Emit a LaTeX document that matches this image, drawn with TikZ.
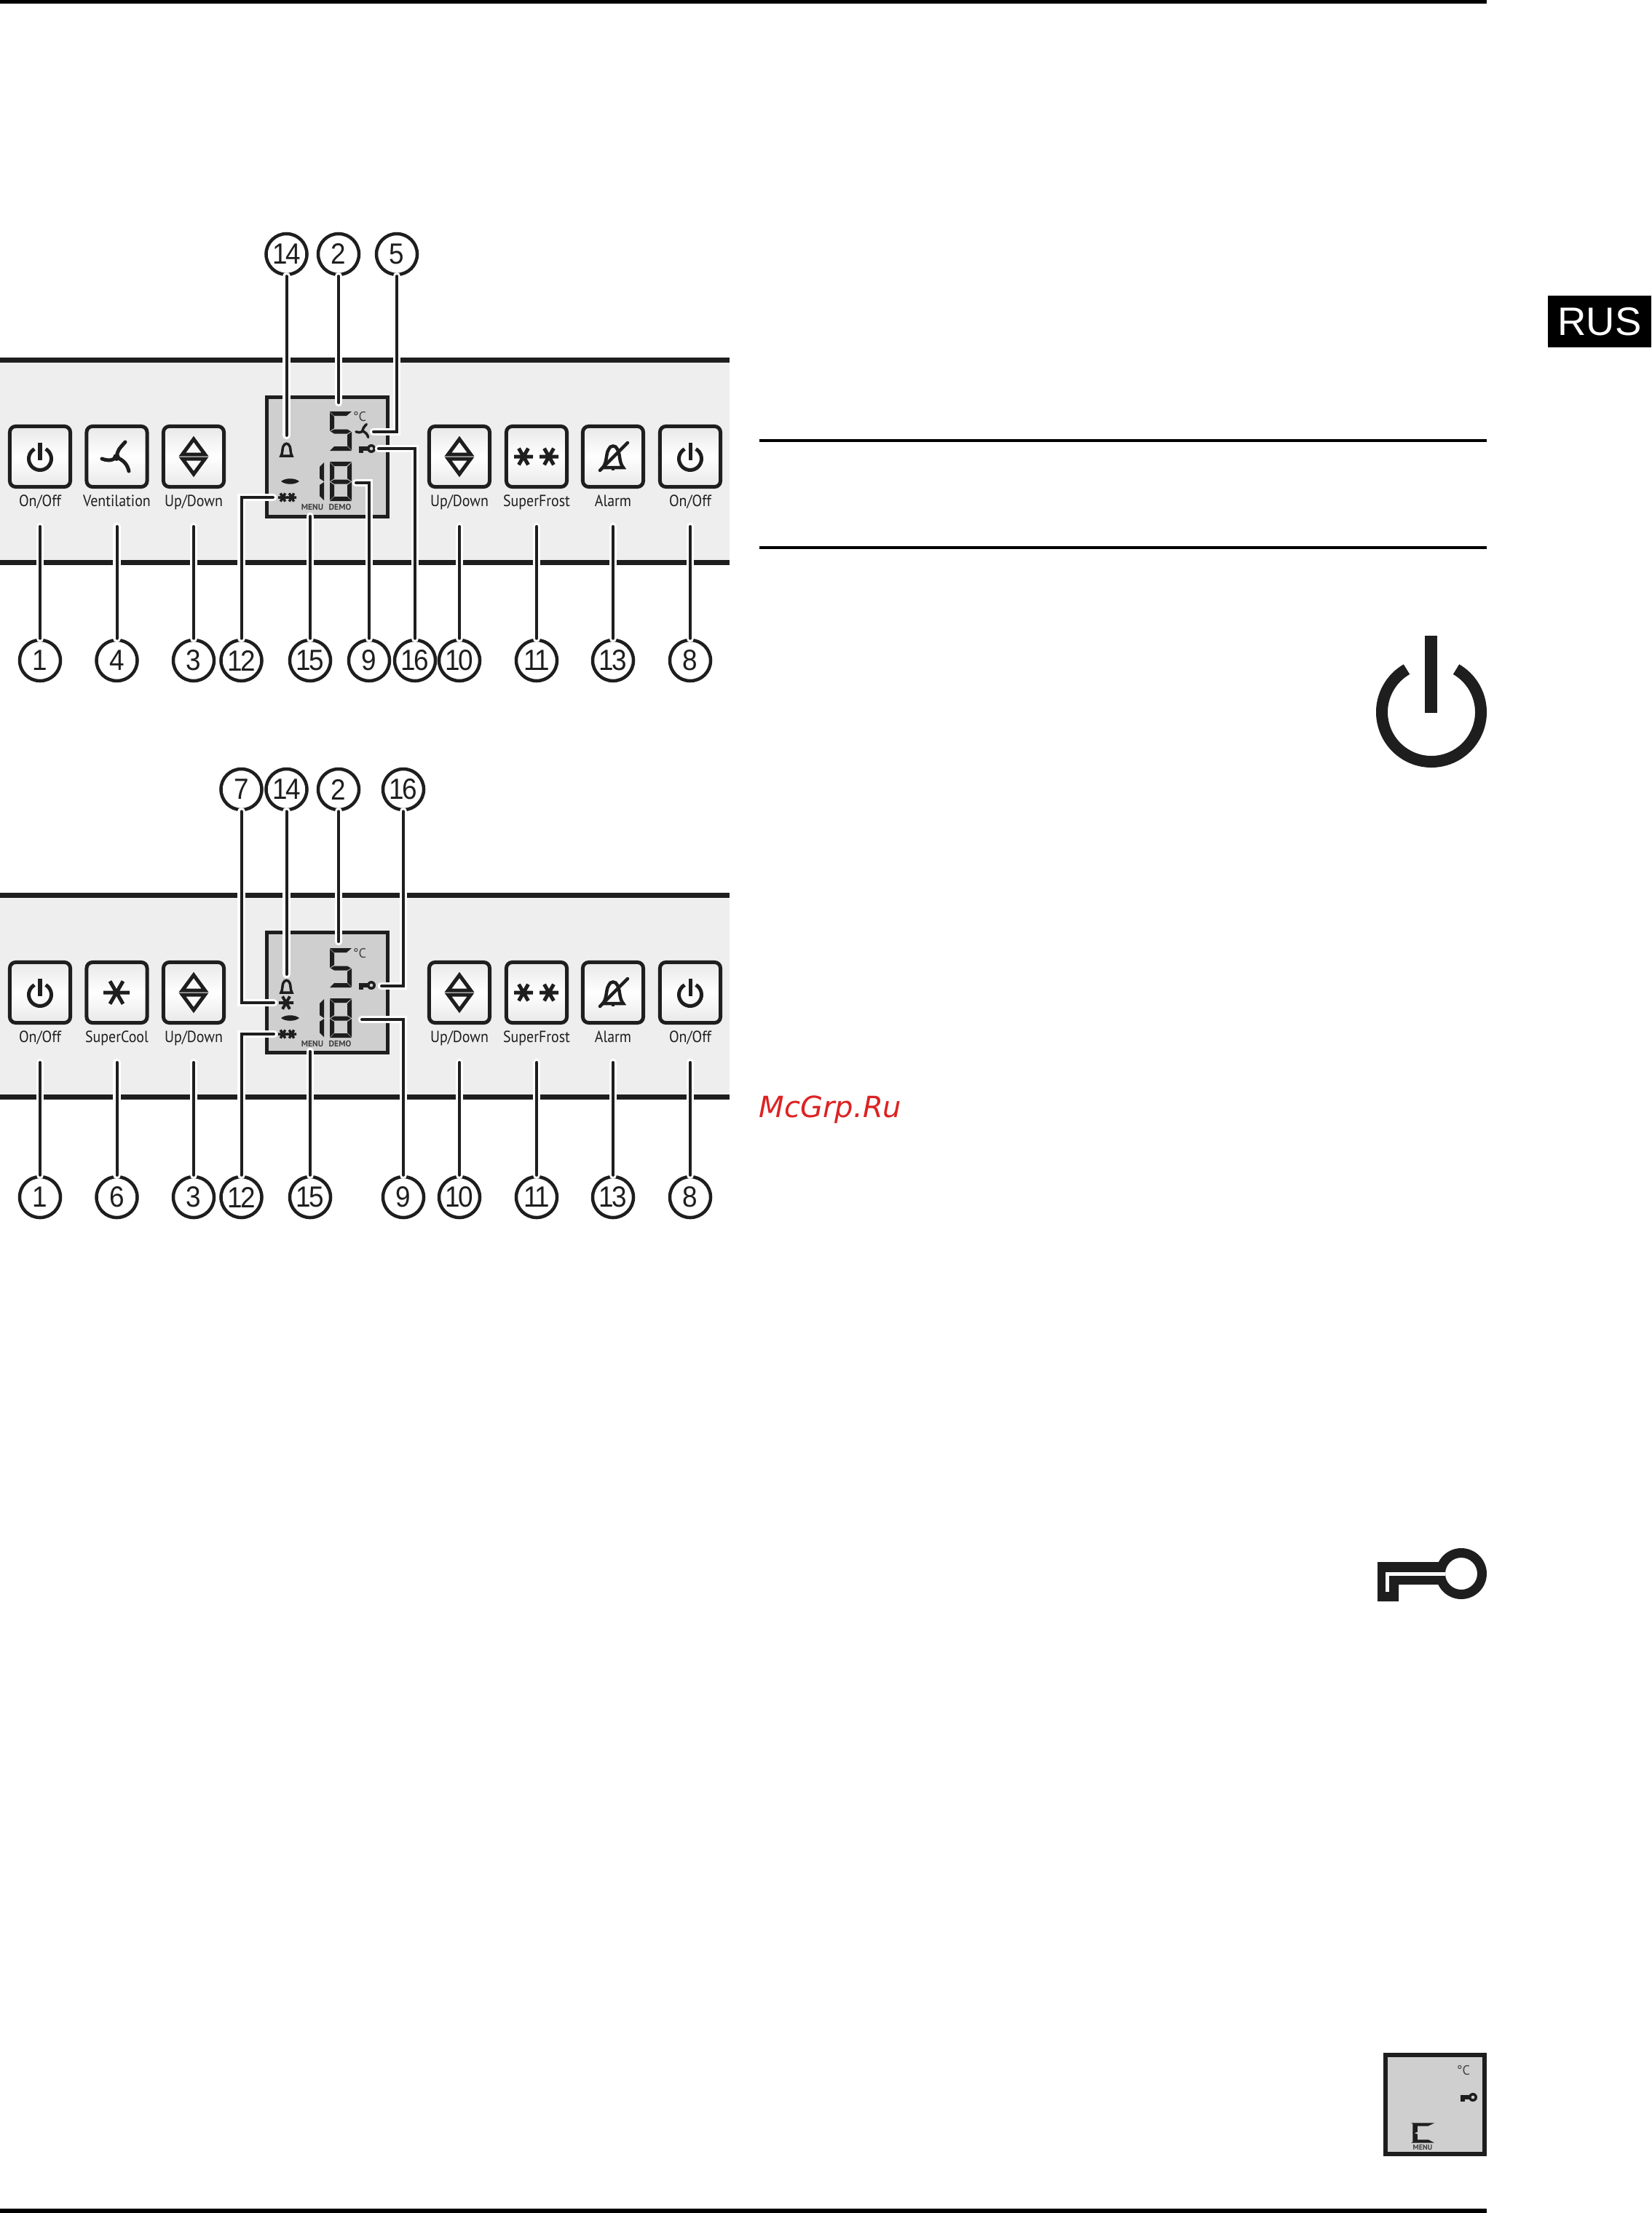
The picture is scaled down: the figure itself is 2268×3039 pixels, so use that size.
\documentclass[tikz,border=0pt]{standalone}
\usepackage{fontspec}
\setmainfont{PT Sans}
\newfontfamily\rusfont{Liberation Sans}
\newfontfamily\markfont{DejaVu Sans}
\newfontfamily\numfont{Liberation Sans}[FakeStretch=0.92,LetterSpace=-7]
\newfontfamily\capfont{PT Sans}[FakeStretch=0.9]
\usepackage{tikz}
\usetikzlibrary{positioning}
\definecolor{panelgray}{HTML}{EEEEEE}
\definecolor{lcdgray}{HTML}{CFCFCF}
\definecolor{inkgray}{HTML}{1E1E1E}
\definecolor{markred}{HTML}{DD2222}
\tikzset{
  callout/.style={draw=inkgray,fill=white,circle,inner sep=0pt,minimum size=0.56cm,line width=0.045cm,font=\numfont\fontsize{11.4}{12}\selectfont,text=inkgray},
  leader/.style={draw=inkgray,line width=0.04cm,line cap=round,preaction={draw=white,line width=0.105cm,line cap=round}},
  button/.style={draw=inkgray,rectangle,rounded corners=0.08cm,minimum size=0.83cm,inner sep=0pt,line width=0.05cm,top color=gray!18,bottom color=gray!18,middle color=white},
  btnlabel/.style={anchor=base,inner sep=0pt,font=\capfont\fontsize{6.3}{7}\selectfont,text=inkgray},
  lcdlabel/.style={inner sep=0pt,font=\bfseries\fontsize{3.3}{4}\selectfont,text=inkgray!85},
  lcddeg/.style={inner sep=0pt,font=\fontsize{5.2}{6}\selectfont,text=inkgray!85},
  lcdseg/.style={fill=inkgray},
  panelrule/.style={draw=inkgray,line width=0.07cm},
  lcdbox/.style={draw=inkgray,fill=lcdgray,line width=0.05cm}
}
\newcommand{\segtop}{\fill[lcdseg] (0,0) -- (30,0) -- (23,6) -- (6,6) -- cycle;}
\newcommand{\segul}{\fill[lcdseg] (0,1) -- (6,7) -- (6,23) -- (0,27) -- cycle;}
\newcommand{\segmid}{\fill[lcdseg] (1,27.5) -- (6,24.5) -- (24,24.5) -- (29,27.5) -- (24,30.5) -- (6,30.5) -- cycle;}
\newcommand{\segur}{\fill[lcdseg] (30,1) -- (24,7) -- (24,23) -- (30,27) -- cycle;}
\newcommand{\segll}{\fill[lcdseg] (0,28) -- (6,32) -- (6,47) -- (0,53) -- cycle;}
\newcommand{\seglr}{\fill[lcdseg] (30,28) -- (24,32) -- (24,47) -- (30,53) -- cycle;}
\newcommand{\segbot}{\fill[lcdseg] (0,54) -- (30,54) -- (24,48) -- (6,48) -- cycle;}
\newcommand{\powericon}[2]{\begin{scope}[shift={(#1,#2)}]
  \draw[inkgray,line width=0.05cm] (-60:15.5) arc (-60:240:15.5);
  \draw[inkgray,line width=0.05cm] (0,-22) -- (0,2);
\end{scope}}
\newcommand{\updownicon}[2]{\begin{scope}[shift={(#1,#2)}]
  \draw[inkgray,line width=0.05cm] (0,-24) -- (-15.5,-3) -- (15.5,-3) -- cycle;
  \draw[inkgray,line width=0.05cm] (0,24) -- (-15.5,3) -- (15.5,3) -- cycle;
\end{scope}}
\newcommand{\staricon}[4]{\begin{scope}[shift={(#1,#2)}]
  \draw[inkgray,line width=#4] (0:#3) -- (180:#3) (60:#3) -- (240:#3) (120:#3) -- (300:#3);
\end{scope}}
\newcommand{\fanicon}[4]{\begin{scope}[shift={(#1,#2)},scale=#3]
  \fill[inkgray] (0,0) circle (5);
  \draw[inkgray,line width=#4,line cap=round] (0,0) .. controls (2,-10) .. (12,-21);
  \draw[inkgray,line width=#4,line cap=round] (0,0) .. controls (-8,6) and (-14,4) .. (-20,2);
  \draw[inkgray,line width=#4,line cap=round] (0,0) .. controls (10,4) and (15,10) .. (17,19);
\end{scope}}
\newcommand{\bellicon}[2]{\begin{scope}[shift={(#1,#2)}]
  \draw[inkgray,line width=0.045cm] (-14,15) .. controls (-8,8) and (-10,-4) .. (-6,-10) .. controls (-4,-16) and (4,-16) .. (6,-10) .. controls (10,-4) and (8,8) .. (14,15) -- cycle;
  \draw[inkgray,line width=0.045cm] (0,15) -- (0,19);
  \draw[inkgray,line width=0.045cm,line cap=round] (20,-19) -- (-18,19);
\end{scope}}
\newcommand{\smallkey}[2]{\begin{scope}[shift={(#1,#2)}]
  \fill[inkgray,even odd rule] (0,0) circle (6) (0,0) circle (2.5);
  \fill[inkgray] (-17,-3.5) rectangle (-4,3);
  \fill[inkgray] (-17,3) rectangle (-11,6);
\end{scope}}
\newcommand{\lcdbody}[2]{\begin{scope}[shift={(0,#2)}]
  \draw[inkgray,line width=0.035cm] (386,626) .. controls (388.5,622) and (387.5,616) .. (389,613) .. controls (391,608) and (396,608) .. (398,613) .. controls (399.5,616) and (398.5,622) .. (401,626) -- cycle;
  \fill[inkgray] (386,661) .. controls (392,656) and (405,656) .. (411,661) .. controls (405,666) and (392,666) .. (386,661) -- cycle;
  \staricon{388.5}{683}{6.5}{0.035cm}
  \staricon{400.5}{683}{6.5}{0.035cm}
  \node[lcdlabel] (#1menu) at (429,696) {MENU};
  \node[lcdlabel] (#1demo) at (467,696) {DEMO};
  \node[lcddeg] (#1deg) at (494,572) {°C};
  \begin{scope}[shift={(453,565)}]\segtop\segul\segmid\seglr\segbot\end{scope}
  \begin{scope}[shift={(415,634)}]\segur\seglr\end{scope}
  \begin{scope}[shift={(453,634)}]\segtop\segul\segur\segmid\segll\seglr\segbot\end{scope}
  \smallkey{510}{616}
\end{scope}}
\begin{document}
\begin{tikzpicture}[x=0.01cm,y=-0.01cm]
\useasboundingbox (0,0) rectangle (2268,3039);

\fill[black] (0,0) rectangle (2042,5);
\fill[black] (0,3033) rectangle (2042,3039);
\fill[black] (1043,603) rectangle (2042,607);
\fill[black] (1043,750) rectangle (2042,754);
\fill[black] (2126,406) rectangle (2268,477);
\node[inner sep=0pt,text=white,font=\rusfont\fontsize{15.5}{16}\selectfont] (rus) at (2197,442) {RUS};
\node[anchor=base west,inner sep=0pt,text=markred,font=\markfont\itshape\fontsize{11.4}{12}\selectfont] (mark) at (1042,1534) {McGrp.Ru};

% panel a
\fill[panelgray] (0,494) rectangle (1002,772);
\draw[panelrule] (0,494) -- (1002,494);
\draw[panelrule] (0,772) -- (1002,772);
\draw[lcdbox] (366,545) rectangle (532,709);
\lcdbody{a}{0}
\fanicon{498}{592}{0.45}{0.035cm}

\node[button] (btna1) at (55,627) {};
\node[button] (btna4) at (160.5,627) {};
\node[button] (btna3) at (266,627) {};
\node[button] (btna10) at (631,627) {};
\node[button] (btna11) at (737,627) {};
\node[button] (btna13) at (842,627) {};
\node[button] (btna8) at (948,627) {};
\powericon{55}{630}
\fanicon{160}{628}{1}{0.05cm}
\updownicon{266}{627}
\updownicon{631}{627}
\staricon{719}{627}{13}{0.05cm}
\staricon{754}{627}{13}{0.05cm}
\bellicon{842}{627}
\powericon{948}{630}

\node[btnlabel] (laba1) at (55,695) {On/Off};
\node[btnlabel] (laba4) at (160.5,695) {Ventilation};
\node[btnlabel] (laba3) at (266,695) {Up/Down};
\node[btnlabel] (laba10) at (631,695) {Up/Down};
\node[btnlabel] (laba11) at (737,695) {SuperFrost};
\node[btnlabel] (laba13) at (842,695) {Alarm};
\node[btnlabel] (laba8) at (948,695) {On/Off};

\node[callout] (a14) at (393.5,349) {14};
\node[callout] (a2) at (465,349) {2};
\node[callout] (a5) at (545,349) {5};
\node[callout] (a1) at (55,907) {1};
\node[callout] (a4) at (160.5,907) {4};
\node[callout] (a3) at (266,907) {3};
\node[callout] (a12) at (331.5,907) {12};
\node[callout] (a15) at (426,907) {15};
\node[callout] (a9) at (507,907) {9};
\node[callout] (a16) at (570,907) {16};
\node[callout] (a10) at (631,907) {10};
\node[callout] (a11) at (737,907) {11};
\node[callout] (a13) at (842,907) {13};
\node[callout] (a8) at (948,907) {8};

\coordinate (ea14) at (393.5,598);
\coordinate (ea2) at (465,553);
\coordinate (ea5) at (513,593);
\coordinate (ea1) at (55,723);
\coordinate (ea4) at (160.5,723);
\coordinate (ea3) at (266,723);
\coordinate (ea12) at (375,683);
\coordinate (ea15) at (426,709);
\coordinate (ea9) at (489,663);
\coordinate (ea16) at (520,616);
\coordinate (ea10) at (631,723);
\coordinate (ea11) at (737,723);
\coordinate (ea13) at (842,723);
\coordinate (ea8) at (948,723);

\draw[leader] (a14) -- (ea14);
\draw[leader] (a2) -- (ea2);
\draw[leader] (a5) |- (ea5);
\draw[leader] (a1) -- (ea1);
\draw[leader] (a4) -- (ea4);
\draw[leader] (a3) -- (ea3);
\draw[leader] (a12) |- (ea12);
\draw[leader] (a15) -- (ea15);
\draw[leader] (a9) |- (ea9);
\draw[leader] (a16) |- (ea16);
\draw[leader] (a10) -- (ea10);
\draw[leader] (a11) -- (ea11);
\draw[leader] (a13) -- (ea13);
\draw[leader] (a8) -- (ea8);

% panel b
\fill[panelgray] (0,1229) rectangle (1002,1506);
\draw[panelrule] (0,1229) -- (1002,1229);
\draw[panelrule] (0,1506) -- (1002,1506);
\draw[lcdbox] (366,1280) rectangle (532,1445);
\lcdbody{b}{737}
\staricon{393}{1377}{10}{0.04cm}

\node[button] (btnb1) at (55,1363) {};
\node[button] (btnb6) at (160.5,1363) {};
\node[button] (btnb3) at (266,1363) {};
\node[button] (btnb10) at (631,1363) {};
\node[button] (btnb11) at (737,1363) {};
\node[button] (btnb13) at (842,1363) {};
\node[button] (btnb8) at (948,1363) {};
\powericon{55}{1366}
\staricon{160}{1363}{18}{0.05cm}
\updownicon{266}{1363}
\updownicon{631}{1363}
\staricon{719}{1363}{13}{0.05cm}
\staricon{754}{1363}{13}{0.05cm}
\bellicon{842}{1363}
\powericon{948}{1366}

\node[btnlabel] (labb1) at (55,1431) {On/Off};
\node[btnlabel] (labb6) at (160.5,1431) {SuperCool};
\node[btnlabel] (labb3) at (266,1431) {Up/Down};
\node[btnlabel] (labb10) at (631,1431) {Up/Down};
\node[btnlabel] (labb11) at (737,1431) {SuperFrost};
\node[btnlabel] (labb13) at (842,1431) {Alarm};
\node[btnlabel] (labb8) at (948,1431) {On/Off};

\node[callout] (b7) at (331.5,1084) {7};
\node[callout] (b14) at (393.5,1084) {14};
\node[callout] (b2) at (465,1084) {2};
\node[callout] (b16) at (554,1084) {16};
\node[callout] (b1) at (55,1644) {1};
\node[callout] (b6) at (160.5,1644) {6};
\node[callout] (b3) at (266,1644) {3};
\node[callout] (b12) at (331.5,1644) {12};
\node[callout] (b15) at (426,1644) {15};
\node[callout] (b9) at (554,1644) {9};
\node[callout] (b10) at (631,1644) {10};
\node[callout] (b11) at (737,1644) {11};
\node[callout] (b13) at (842,1644) {13};
\node[callout] (b8) at (948,1644) {8};

\coordinate (eb7) at (376,1377);
\coordinate (eb14) at (393.5,1338);
\coordinate (eb2) at (465,1293);
\coordinate (eb16) at (524,1354);
\coordinate (eb1) at (55,1459);
\coordinate (eb6) at (160.5,1459);
\coordinate (eb3) at (266,1459);
\coordinate (eb12) at (376,1420);
\coordinate (eb15) at (426,1444);
\coordinate (eb9) at (497,1400);
\coordinate (eb10) at (631,1459);
\coordinate (eb11) at (737,1459);
\coordinate (eb13) at (842,1459);
\coordinate (eb8) at (948,1459);

\draw[leader] (b7) |- (eb7);
\draw[leader] (b14) -- (eb14);
\draw[leader] (b2) -- (eb2);
\draw[leader] (b16) |- (eb16);
\draw[leader] (b1) -- (eb1);
\draw[leader] (b6) -- (eb6);
\draw[leader] (b3) -- (eb3);
\draw[leader] (b12) |- (eb12);
\draw[leader] (b15) -- (eb15);
\draw[leader] (b9) |- (eb9);
\draw[leader] (b10) -- (eb10);
\draw[leader] (b11) -- (eb11);
\draw[leader] (b13) -- (eb13);
\draw[leader] (b8) -- (eb8);

% big symbols
\draw[inkgray,line width=0.16cm] (1966,978) ++(-60:68) arc (-60:240:68);
\fill[inkgray] (1957,873) rectangle (1974,979);
\fill[inkgray,even odd rule] (2007,2161) circle (35) (2007,2161) circle (22);
\fill[inkgray] (1892,2145) -- (1979,2145) -- (1979,2176) -- (1921,2176) -- (1921,2199) -- (1892,2199) -- cycle;
\draw[white,line width=0.05cm] (1985,2161) -- (1905,2161) -- (1905,2186);
\draw[inkgray,fill=lcdgray,line width=0.055cm] (1903,2822) rectangle (2039,2958);
\node[lcddeg] (sdeg) at (2010,2843) {°C};
\smallkey{2023}{2880}
\begin{scope}[shift={(1941,2916)},xscale=0.87,yscale=0.48,lcdseg/.append style={draw=inkgray,line width=0.015cm}]\segtop\segul\segll\segbot\end{scope}
\node[lcdlabel,font=\bfseries\fontsize{2.9}{4}\selectfont] (smenu) at (1954,2949) {MENU};

\end{tikzpicture}
\end{document}
